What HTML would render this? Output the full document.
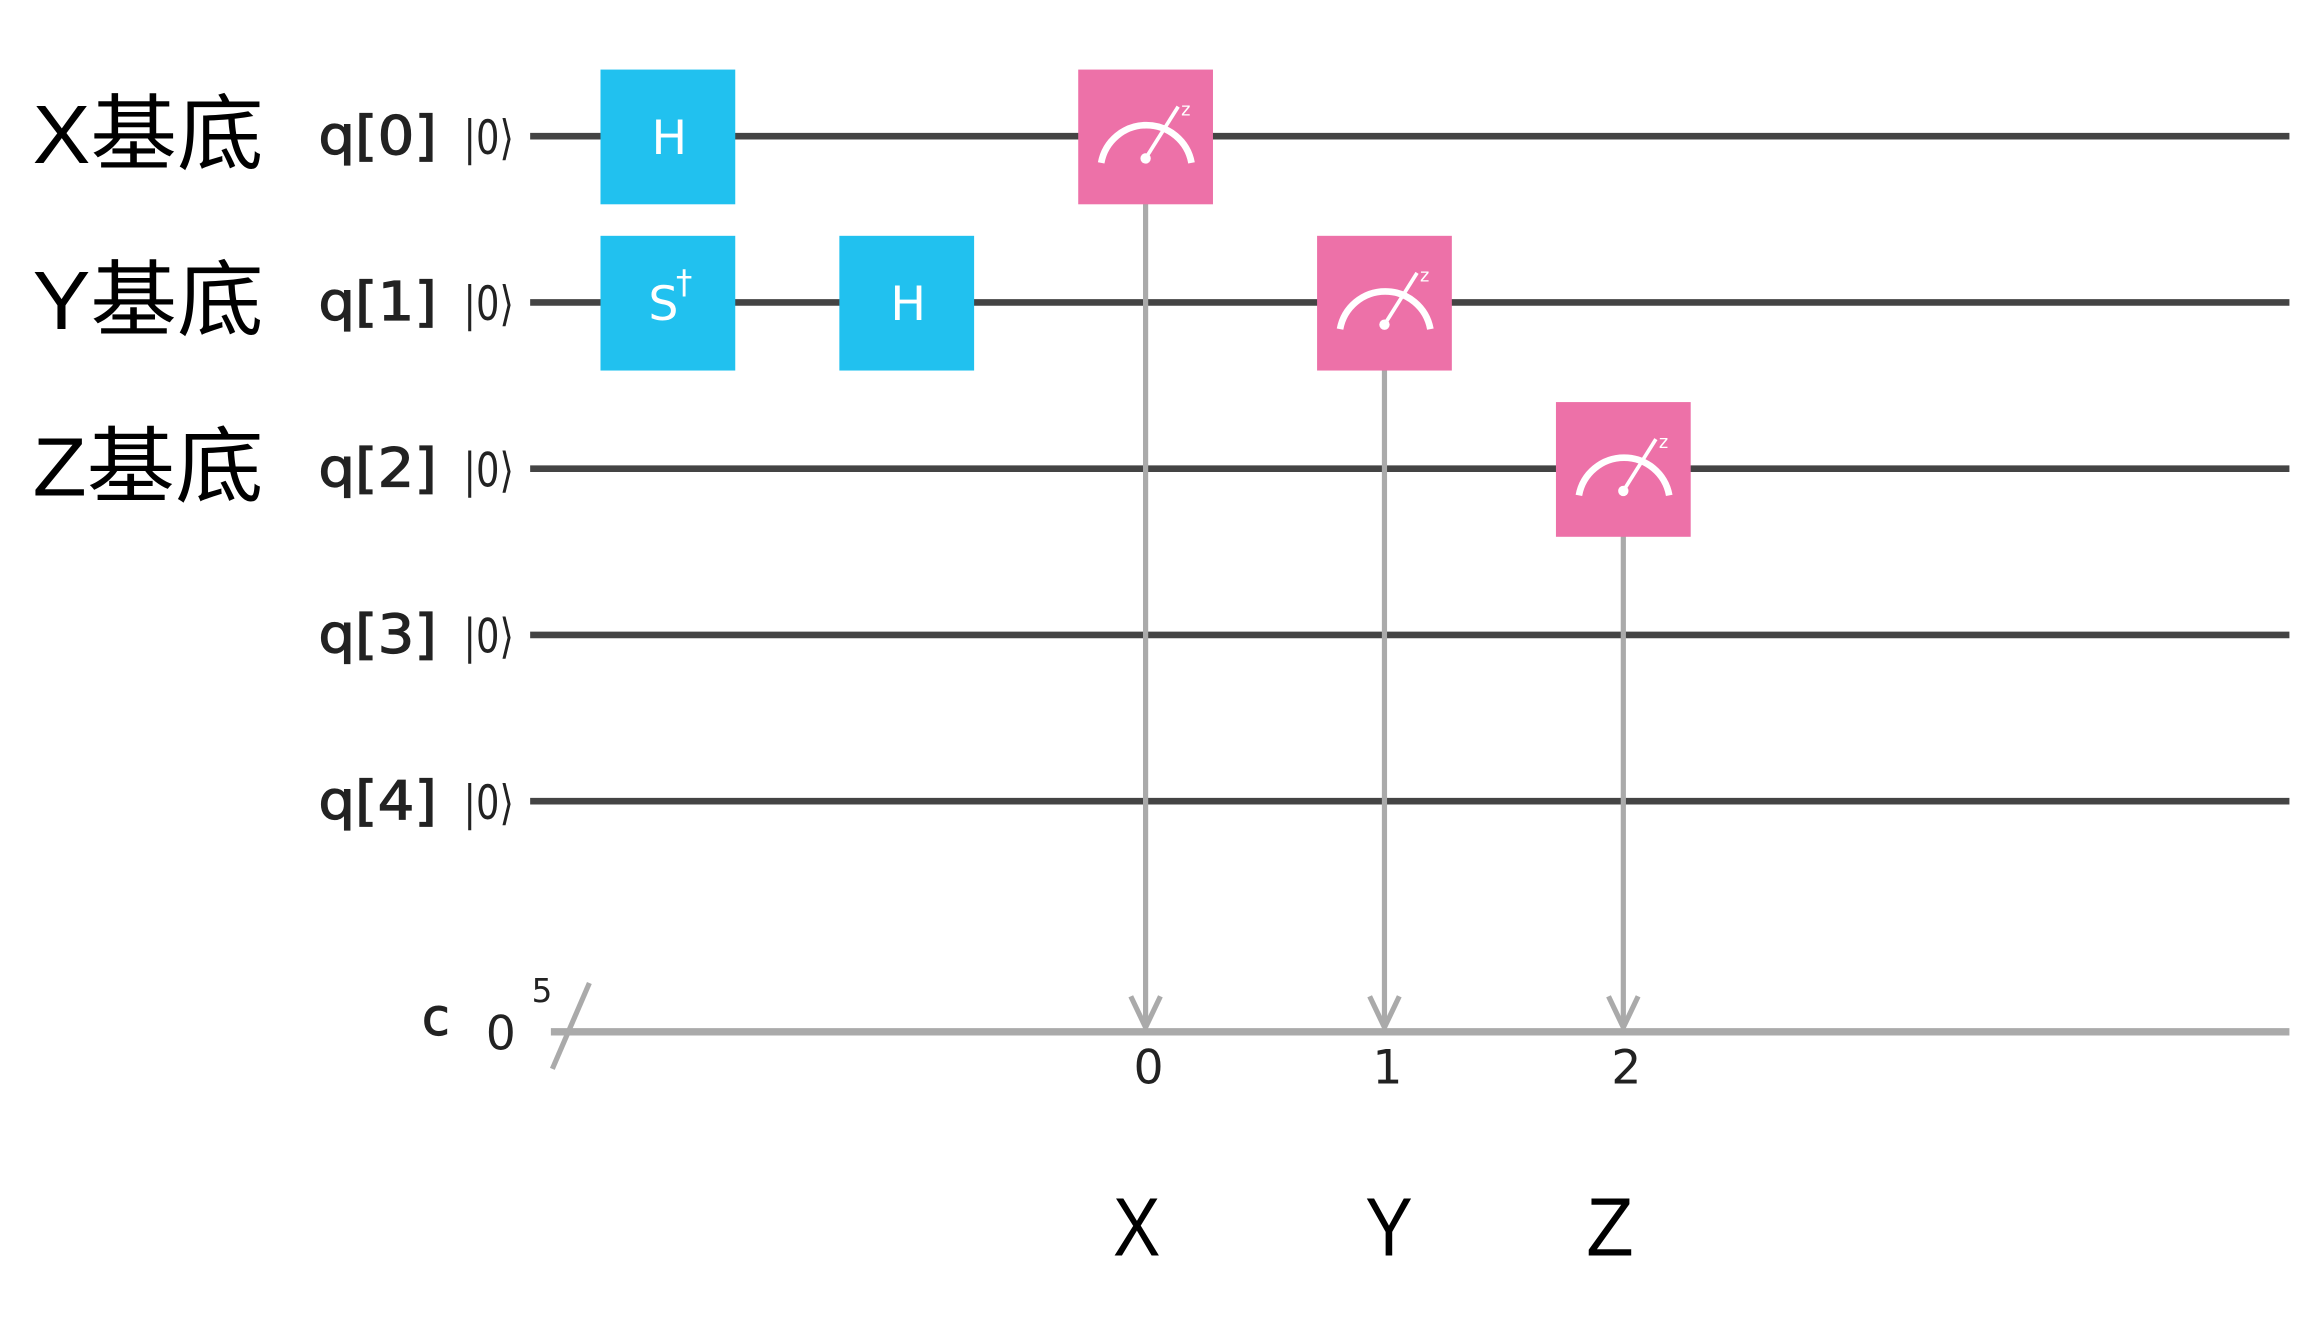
<!DOCTYPE html>
<html><head><meta charset="utf-8">
<style>
html,body{margin:0;padding:0;background:#fff;}
svg{display:block;}
text{font-family:"DejaVu Sans","Liberation Sans","Noto Sans CJK SC",sans-serif;}
.big{font-family:"Liberation Sans","Noto Sans CJK SC",sans-serif;}
</style></head>
<body>
<svg id="chart" width="2322" height="1322" viewBox="0 0 1568 893" preserveAspectRatio="none" xmlns="http://www.w3.org/2000/svg">
<g id="wires"></g>
<g id="classical"></g>
<g id="gates"></g>
<g id="labels"></g>
</svg>
<script>
const qubitLabels = ["q[0]","q[1]","q[2]","q[3]","q[4]"];
const basisLabels = ["X基底","Y基底","Z基底"];
const gateCols = [0, 0, 1];
const gateQubits = [0, 1, 1];
const gateNames = ["H","S","H"];
const measCols = [2, 3, 4];
const measQubits = [0, 1, 2];
const measBits = ["0","1","2"];
const resultLabels = ["X","Y","Z"];

const NS = "http://www.w3.org/2000/svg";
const qy = q => 92 + q * 112.3;
const cx = c => 451 + c * 161.3;
const cY = 697;
const BOX = 91;
const resultNudge = [-6, 3, -9];
function mk(tag, attrs, parent, txt){
  const e = document.createElementNS(NS, tag);
  for (const k in attrs) e.setAttribute(k, attrs[k]);
  if (txt !== undefined) e.textContent = txt;
  parent.appendChild(e);
  return e;
}
const W = document.getElementById('wires');
const C = document.getElementById('classical');
const G = document.getElementById('gates');
const L = document.getElementById('labels');

qubitLabels.forEach((lab, i) => {
  const y = qy(i);
  const ln = mk('line', {x1:358, y1:y, x2:1546, y2:y, stroke:'#444', 'stroke-width':4.5}, W);
  
  
  const t = mk('text', {x:215, y:y+12, 'font-size':36, fill:'#222', stroke:'#222', 'stroke-width':0.8, textLength:80, lengthAdjust:'spacingAndGlyphs'}, L, lab);
  
  
  const k = mk('text', {x:313, y:y+12, 'font-size':32, fill:'#222', 'font-family':'Liberation Serif, serif', textLength:34, lengthAdjust:'spacingAndGlyphs'}, L, '|0⟩');
  
  
});
basisLabels.forEach((lab, i) => {
  const t = mk('text', {x:22, y:qy(i)+18, 'font-size':56, fill:'#000', class:'big', textLength:156, lengthAdjust:'spacingAndGlyphs'}, L, lab);
  
  
});

const cl = mk('line', {x1:372, y1:cY, x2:1546, y2:cY, stroke:'#aaa', 'stroke-width':5}, C);


const sl = mk('line', {x1:373, y1:722, x2:398, y2:664, stroke:'#aaa', 'stroke-width':3.5}, C);


const ct = mk('text', {x:285, y:699, 'font-size':34, fill:'#222', stroke:'#222', 'stroke-width':0.8}, L, 'c');


const c0 = mk('text', {x:328, y:709, 'font-size':32, fill:'#222', 'font-family':'Liberation Serif, serif'}, L, '0');


const c5 = mk('text', {x:359, y:677, 'font-size':22, fill:'#222', 'font-family':'Liberation Serif, serif'}, L, '5');



gateNames.forEach((n, i) => {
  const x = cx(gateCols[i]), y = qy(gateQubits[i]);
  const r = mk('rect', {x:x-BOX/2, y:y-45, width:BOX, height:BOX, fill:'#21c1ef'}, G);
  
  
  const t = mk('text', {x:x+(n==='S'?-3:1), y:y+12, 'font-size':32, fill:'#fff', 'text-anchor':'middle'}, G, n);
  
  
  if (n === 'S') {
    const d = mk('text', {x:x+11, y:y-6, 'font-size':22, fill:'#fff', 'text-anchor':'middle'}, G, '†');
    
    
  }
});

measCols.forEach((c, i) => {
  const x = cx(c), y = qy(measQubits[i]);
  const v = mk('line', {x1:x, y1:y+45, x2:x, y2:cY-3, stroke:'#aaa', 'stroke-width':3.5}, G);
  
  
  const a = mk('polyline', {points:`${x-10},${cY-24} ${x},${cY-3} ${x+10},${cY-24}`, fill:'none', stroke:'#aaa', 'stroke-width':3.5}, G);
  
  
  const r = mk('rect', {x:x-BOX/2, y:y-45, width:BOX, height:BOX, fill:'#ed71a8'}, G);
  
  
  const arc = mk('path', {d:`M${x-30},${y+18} A31 31 0 0 1 ${x+31},${y+18}`, fill:'none', stroke:'#fff', 'stroke-width':4.5}, G);
  
  
  const nd = mk('line', {x1:x, y1:y+15, x2:x+22, y2:y-20, stroke:'#fff', 'stroke-width':2.5}, G);
  
  
  const dt = mk('circle', {cx:x, cy:y+15, r:3.5, fill:'#fff'}, G);
  
  
  const z = mk('text', {x:x+24, y:y-14, 'font-size':12, fill:'#fff'}, G, 'z');
  
  
  const b = mk('text', {x:x+2, y:cY+35, 'font-size':32, fill:'#222', 'text-anchor':'middle', 'font-family':'Liberation Serif, serif'}, L, measBits[i]);
  
  
  const rl = mk('text', {x:x+resultNudge[i], y:848, 'font-size':56, fill:'#000', 'text-anchor':'middle', class:'big', textLength:32, lengthAdjust:'spacingAndGlyphs'}, L, resultLabels[i]);
  
  
});
</script>
</body></html>
